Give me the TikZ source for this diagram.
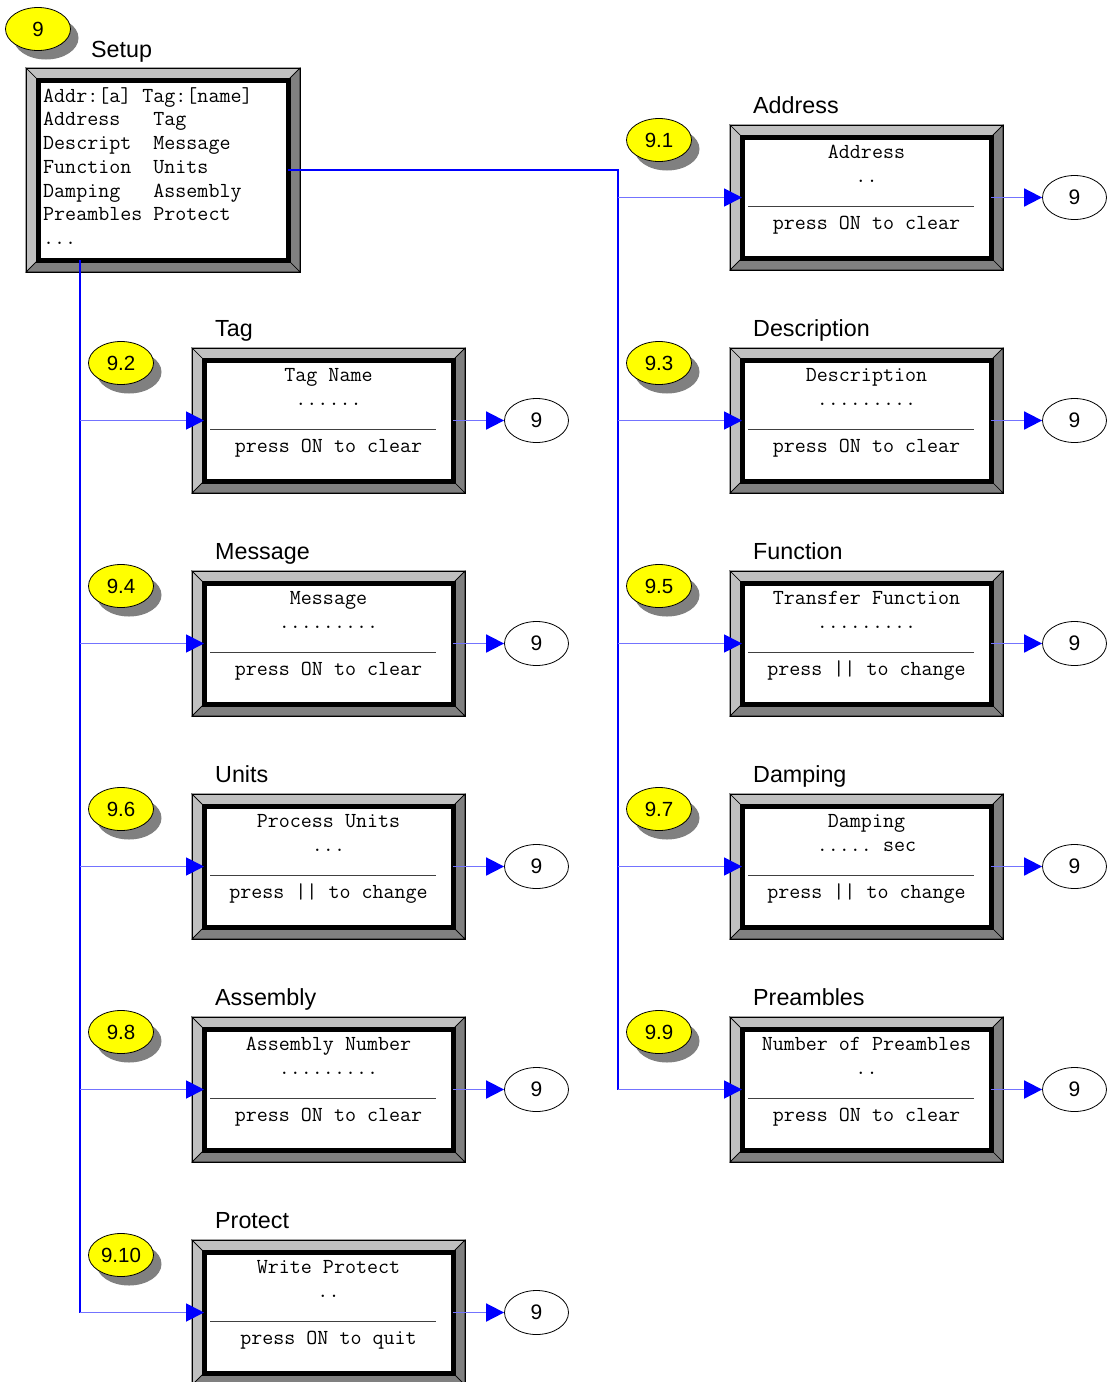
\documentclass[tikz,border=0pt]{standalone}
\usepackage{fontspec}
\setmainfont{Liberation Sans}
\usetikzlibrary{arrows.meta,shapes.geometric}
\definecolor{bevlight}{RGB}{192,192,192}
\definecolor{bevdark}{RGB}{128,128,128}
\definecolor{shadowgray}{RGB}{128,128,128}
\definecolor{badgeyellow}{RGB}{255,255,0}
\definecolor{linkblue}{RGB}{0,0,255}
\tikzset{
  outerbox/.style={draw=black, line width=0.7pt, inner sep=0pt, outer sep=0pt},
  innerbox/.style={draw=black, fill=white, line width=5pt, inner sep=0pt, outer sep=0pt},
  bevtop/.style={fill=bevlight, draw=black, line width=0.7pt, line join=miter},
  bevbot/.style={fill=bevdark, draw=black, line width=0.7pt, line join=miter},
  scrtext/.style={font=\fontsize{21.4}{24}\selectfont\ttfamily, inner sep=0pt, anchor=base, text=black},
  setuptext/.style={font=\fontsize{21.4}{24}\selectfont\ttfamily, inner sep=0pt, anchor=base west, text=black},
  titletext/.style={font=\fontsize{23.3}{26}\selectfont, anchor=base west, inner sep=0pt},
  badge/.style={ellipse, draw=black, line width=0.8pt, fill=badgeyellow, minimum width=65pt, minimum height=43pt, inner sep=0pt, font=\fontsize{20.5}{24}\selectfont},
  badgeshadow/.style={ellipse, fill=shadowgray, minimum width=65pt, minimum height=43pt, inner sep=0pt},
  target/.style={ellipse, draw=black, line width=0.8pt, fill=white, minimum width=64pt, minimum height=44pt, inner sep=0pt, font=\fontsize{21}{24}\selectfont},
  trunk/.style={draw=linkblue, line width=2pt},
  branch/.style={draw=linkblue!55, line width=1.8pt, -{Triangle[length=18pt,width=18pt,color=linkblue,fill=linkblue]}},
  sepline/.style={draw=black!75, line width=1.3pt}
}
% #1 name, #2 x0, #3 y0, #4 title, #5 line1, #6 line2, #7 line3, #8 badge
\newcommand\screenbox[8]{%
  \path[bevtop] (#2,#3) -- (#2+273,#3) -- (#2+261,#3+12) -- (#2+12,#3+12) -- cycle;
  \path[bevtop] (#2,#3) -- (#2+12,#3+12) -- (#2+12,#3+133) -- (#2,#3+145) -- cycle;
  \path[bevbot] (#2+273,#3) -- (#2+273,#3+145) -- (#2+261,#3+133) -- (#2+261,#3+12) -- cycle;
  \path[bevbot] (#2,#3+145) -- (#2+273,#3+145) -- (#2+261,#3+133) -- (#2+12,#3+133) -- cycle;
  \node[outerbox, minimum width=273pt, minimum height=145pt] (#1) at (#2+136.5,#3+72.5) {};
  \node[innerbox, minimum width=249pt, minimum height=121pt] (#1I) at (#2+136.5,#3+72.5) {};
  \node[scrtext] (#1a) at (#2+136.5,#3+33) {#5};
  \node[scrtext] (#1b) at (#2+136.5,#3+57.5) {#6};
  \draw[sepline] (#2+18,#3+81.5) -- (#2+244,#3+81.5);
  \node[scrtext] (#1c) at (#2+136.5,#3+104) {#7};
  \node[titletext] (#1t) at (#2+23,#3-11.5) {#4};
  \node[badgeshadow] (#1s) at (#2-63,#3+24) {};
  \node[badge] (#1g) at (#2-71,#3+15) {#8};
  \node[target] (#1e) at (#2+344.5,#3+72.5) {9};
  \draw[branch] (#1I.east) -- (#1e.west);
}
\begin{document}
\begin{tikzpicture}[x=1pt,y=-1pt]
\useasboundingbox (0,0) rectangle (1110,1382);
% Setup box
\path[bevtop] (26,68) -- (300,68) -- (288,80) -- (38,80) -- cycle;
\path[bevtop] (26,68) -- (38,80) -- (38,260) -- (26,272) -- cycle;
\path[bevbot] (300,68) -- (300,272) -- (288,260) -- (288,80) -- cycle;
\path[bevbot] (26,272) -- (300,272) -- (288,260) -- (38,260) -- cycle;
\node[outerbox, minimum width=274pt, minimum height=204pt] (setup) at (163,170) {};
\node[innerbox, minimum width=250pt, minimum height=180pt] (setupI) at (163,170) {};
\node[setuptext] (s1) at (43,102.2) {Addr:[a]~Tag:[name]};
\node[setuptext] (s2) at (43,125.9) {Address~~~Tag};
\node[setuptext] (s3) at (43,149.6) {Descript~~Message};
\node[setuptext] (s4) at (43,173.3) {Function~~Units};
\node[setuptext] (s5) at (43,197.0) {Damping~~~Assembly};
\node[setuptext] (s6) at (43,220.7) {Preambles~Protect};
\node[setuptext] (s7) at (43,244.4) {...};
\node[titletext] (setupt) at (91,57.5) {Setup};
\node[badgeshadow] (setups) at (46,38) {};
\node[badge] (setupg) at (38,29) {9};

% screens
\screenbox{addr}{730}{125}{Address}{Address}{..~}{press ON to clear}{9.1}
\screenbox{tag}{192}{348}{Tag}{Tag Name}{......~}{press ON to clear}{9.2}
\screenbox{desc}{730}{348}{Description}{Description}{.........}{press ON to clear}{9.3}
\screenbox{msg}{192}{571}{Message}{Message}{.........}{press ON to clear}{9.4}
\screenbox{func}{730}{571}{Function}{Transfer Function}{.........}{press || to change~}{9.5}
\screenbox{units}{192}{794}{Units}{Process Units}{...}{press || to change~}{9.6}
\screenbox{damp}{730}{794}{Damping}{Damping}{.....~sec}{press || to change~}{9.7}
\screenbox{assy}{192}{1017}{Assembly}{Assembly Number}{.........}{press ON to clear}{9.8}
\screenbox{pre}{730}{1017}{Preambles}{Number of Preambles}{..~}{press ON to clear}{9.9}
\screenbox{prot}{192}{1240}{Protect}{Write Protect}{..~}{press ON to quit}{9.10}

% connectors
\coordinate (ltop) at (80,260);
\coordinate (rtop) at (618,170);
\draw[trunk] (ltop) -- (ltop |- protI.west);
\draw[trunk] (setupI.east |- rtop) -- (rtop) -- (rtop |- preI.west);
\foreach \n in {tag,msg,units,assy,prot}{
  \draw[branch] (ltop |- \n I.west) -- (\n I.west);
}
\foreach \n in {addr,desc,func,damp,pre}{
  \draw[branch] (rtop |- \n I.west) -- (\n I.west);
}
\end{tikzpicture}
\end{document}
